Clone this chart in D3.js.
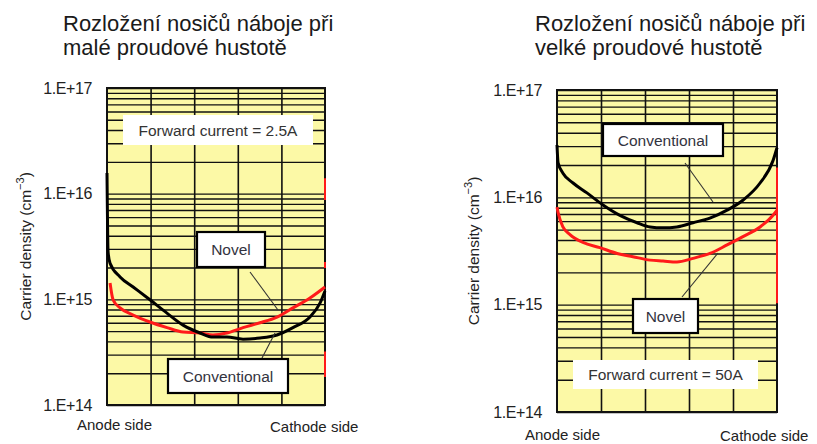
<!DOCTYPE html>
<html>
<head>
<meta charset="utf-8">
<script src="https://cdn.jsdelivr.net/npm/d3@7"></script>
<style>
  body { margin: 0; background: #fff; }
  text { font-family: "Liberation Sans", Arial, sans-serif; }
</style>
</head>
<body>
<div id="chart"></div>
<script>
// ---- data (x = position from anode to cathode, %) ----
var tickValues = [1e14, 1e15, 1e16, 1e17];
var tickLabels = ["1.E+14", "1.E+15", "1.E+16", "1.E+17"];

var lowConvX = [0, 0.5, 1.4, 6, 12, 19.7, 27.5, 34.9, 42.7, 48.6, 55, 62.4, 70.2, 78, 85.3, 93.1, 97.7, 100];
var lowConvY = [1.57e16, 2.8e15, 2.2e15, 1.63e15, 1.31e15, 9.9e14, 7.4e14, 5.7e14, 4.8e14, 4.4e14, 4.4e14, 4.2e14, 4.3e14, 4.6e14, 5.4e14, 6.8e14, 9.2e14, 1.2e15];
var lowNovelX = [1.4, 2.8, 6, 12, 19.7, 27.5, 34.9, 42.7, 48.6, 55, 62.4, 70.2, 78, 85.3, 93.1, 100];
var lowNovelY = [1.43e15, 9.9e14, 8.3e14, 7.1e14, 6.1e14, 5.4e14, 4.9e14, 4.8e14, 4.6e14, 4.8e14, 5.4e14, 6.0e14, 6.8e14, 8.3e14, 1.03e15, 1.31e15];

var highConvX = [0, 0.5, 2.7, 7.3, 13.6, 20.9, 28.6, 36.4, 42.3, 48.2, 54.5, 61.8, 69.5, 77.3, 84.5, 92.3, 98.2, 100];
var highConvY = [3.07e16, 2.09e16, 1.68e16, 1.36e16, 1.10e16, 8.5e15, 6.8e15, 5.8e15, 5.3e15, 5.2e15, 5.3e15, 5.8e15, 6.4e15, 7.6e15, 9.4e15, 1.36e16, 2.2e16, 2.9e16];
var highNovelX = [0, 0.5, 2.7, 5.9, 11.8, 19.5, 27.3, 34.5, 42.3, 48.2, 54.5, 61.8, 69.5, 77.3, 84.5, 92.3, 98.2, 100];
var highNovelY = [8.1e15, 7.2e15, 5.3e15, 4.5e15, 3.8e15, 3.4e15, 3.0e15, 2.8e15, 2.6e15, 2.55e15, 2.5e15, 2.7e15, 3.0e15, 3.6e15, 4.3e15, 5.3e15, 6.8e15, 7.6e15];

// stray red pieces on the cathode edge of the original plots [from, to]
var lowEdgeRed = [[1.4e16, 8.7e15], [2.25e15, 1.98e15], [3.2e14, 1.84e14]];
var highEdgeRed = [[1.9e16, 1.03e15]];

var panels = [
  {
    title: ["Rozložení nosičů náboje při", "malé proudové hustotě"],
    titleX: 63,
    plot: {x: 107, y: 88, w: 218, h: 317},
    series: [
      {x: lowNovelX, y: lowNovelY, color: "#ff1a1a"},
      {x: lowConvX, y: lowConvY, color: "#000"}
    ],
    edgeRed: lowEdgeRed,
    current: {text: "Forward current = 2.5A", x: 16, y: 27, w: 190, h: 30},
    boxes: [
      {text: "Novel", x: 90, y: 144, w: 68, h: 35},
      {text: "Conventional", x: 61, y: 271, w: 120, h: 34}
    ],
    leaders: [[143, 184, 171, 222], [168, 245, 155, 270]],
    yTitleX: 31,
    anode: {x: 77, y: 430},
    cathode: {x: 270, y: 432}
  },
  {
    title: ["Rozložení nosičů náboje při", "velké proudové hustotě"],
    titleX: 535,
    plot: {x: 557, y: 90, w: 220, h: 322},
    series: [
      {x: highNovelX, y: highNovelY, color: "#ff1a1a"},
      {x: highConvX, y: highConvY, color: "#000"}
    ],
    edgeRed: highEdgeRed,
    current: {text: "Forward current = 50A", x: 16, y: 270, w: 185, h: 29},
    boxes: [
      {text: "Conventional", x: 46, y: 34, w: 120, h: 32},
      {text: "Novel", x: 76, y: 209, w: 65, h: 34}
    ],
    leaders: [[128, 73, 156, 112], [125, 207, 161, 163]],
    yTitleX: 479,
    anode: {x: 525, y: 440},
    cathode: {x: 720, y: 441}
  }
];

var svg = d3.select("#chart").append("svg")
      .attr("width", 817)
      .attr("height", 444);

panels.forEach(function(p) {
  var pl = p.plot;

  // title, two lines
  svg.append("text")
    .attr("x", p.titleX)
    .attr("y", 31)
    .attr("font-size", "22px")
    .attr("fill", "#1a1a1a")
    .selectAll("tspan")
    .data(p.title)
    .enter()
    .append("tspan")
    .attr("x", p.titleX)
    .attr("dy", (d, i) => i === 0 ? 0 : 24)
    .text(d => d);

  var x = d3.scaleLinear().domain([0, 100]).range([0, pl.w]);
  var y = d3.scaleLog().domain([1e14, 1e17]).range([pl.h, 0]);

  var g = svg.append("g")
    .attr("transform", `translate(${pl.x}, ${pl.y})`);

  g.append("rect")
    .attr("width", pl.w)
    .attr("height", pl.h)
    .attr("fill", "#fcf9a6");

  // log grid: 1..9 in every decade
  var minor = [];
  [1e14, 1e15, 1e16].forEach(function(dec) {
    for (var k = 1; k <= 9; k++) minor.push(k * dec);
  });
  minor.push(1e17);

  g.append("g")
    .call(d3.axisLeft(y).tickValues(minor).tickSize(-pl.w).tickFormat(""))
    .call(s => s.select(".domain").remove())
    .selectAll("line")
    .attr("stroke", "#111")
    .attr("stroke-width", 1.4);

  g.append("g")
    .attr("transform", `translate(0, ${pl.h})`)
    .call(d3.axisBottom(x).tickValues([20, 40, 60, 80]).tickSize(pl.h).tickFormat(""))
    .call(s => s.select(".domain").remove())
    .selectAll("line")
    .attr("stroke", "#111")
    .attr("stroke-width", 1.6)
    .attr("transform", `translate(0, ${-pl.h})`);

  // white box behind forward current text
  g.append("rect")
    .attr("x", p.current.x)
    .attr("y", p.current.y)
    .attr("width", p.current.w)
    .attr("height", p.current.h)
    .attr("fill", "#fff");
  g.append("text")
    .attr("x", p.current.x + p.current.w / 2)
    .attr("y", p.current.y + p.current.h / 2)
    .attr("dy", "0.36em")
    .attr("text-anchor", "middle")
    .attr("font-size", "15.5px")
    .attr("fill", "#333")
    .text(p.current.text);

  g.append("rect")
    .attr("width", pl.w)
    .attr("height", pl.h)
    .attr("fill", "none")
    .attr("stroke", "#111")
    .attr("stroke-width", 2);

  g.selectAll(".edge")
    .data(p.edgeRed)
    .enter()
    .append("line")
    .attr("x1", x(100))
    .attr("x2", x(100))
    .attr("y1", d => y(d[0]))
    .attr("y2", d => y(d[1]))
    .attr("stroke", "#ff1a1a")
    .attr("stroke-width", 2);

  // curves
  var line = d3.line()
    .x(d => x(d[0]))
    .y(d => y(d[1]))
    .curve(d3.curveMonotoneX);

  p.series.forEach(function(s) {
    g.append("path")
      .datum(d3.zip(s.x, s.y))
      .attr("d", line)
      .attr("fill", "none")
      .attr("stroke", s.color)
      .attr("stroke-width", 3)
      .attr("stroke-linejoin", "round");
  });

  // leader lines
  g.selectAll(".leader")
    .data(p.leaders)
    .enter()
    .append("line")
    .attr("x1", d => d[0])
    .attr("y1", d => d[1])
    .attr("x2", d => d[2])
    .attr("y2", d => d[3])
    .attr("stroke", "#333")
    .attr("stroke-width", 1.1);

  // label boxes
  var bx = g.selectAll(".box")
    .data(p.boxes)
    .enter()
    .append("g");
  bx.append("rect")
    .attr("x", d => d.x)
    .attr("y", d => d.y)
    .attr("width", d => d.w)
    .attr("height", d => d.h)
    .attr("fill", "#fff")
    .attr("stroke", "#000")
    .attr("stroke-width", 2.2);
  bx.append("text")
    .attr("x", d => d.x + d.w / 2)
    .attr("y", d => d.y + d.h / 2)
    .attr("dy", "0.36em")
    .attr("text-anchor", "middle")
    .attr("font-size", "15.5px")
    .attr("fill", "#333340")
    .text(d => d.text);

  // y axis labels
  g.append("g")
    .call(d3.axisLeft(y).tickValues(tickValues).tickSize(0).tickPadding(15)
      .tickFormat((d, i) => tickLabels[i]))
    .call(s => s.select(".domain").remove())
    .selectAll("text")
    .attr("font-family", "'Liberation Sans', Arial, sans-serif")
    .attr("font-size", "16px")
    .attr("letter-spacing", "-0.4px")
    .attr("fill", "#222");

  // y axis title
  var yt = svg.append("text")
    .attr("transform", `translate(${p.yTitleX}, ${pl.y + pl.h / 2}) rotate(-90)`)
    .attr("text-anchor", "middle")
    .attr("font-size", "15.5px")
    .attr("fill", "#222");
  yt.append("tspan").text("Carrier density  (cm");
  yt.append("tspan").attr("dy", -7).attr("font-size", "11px").text("−3");
  yt.append("tspan").attr("dy", 7).text(")");

  svg.append("text")
    .attr("x", p.anode.x)
    .attr("y", p.anode.y)
    .attr("font-size", "15px")
    .attr("fill", "#222")
    .text("Anode side");
  svg.append("text")
    .attr("x", p.cathode.x)
    .attr("y", p.cathode.y)
    .attr("font-size", "15px")
    .attr("fill", "#222")
    .text("Cathode side");
});
</script>
</body>
</html>
